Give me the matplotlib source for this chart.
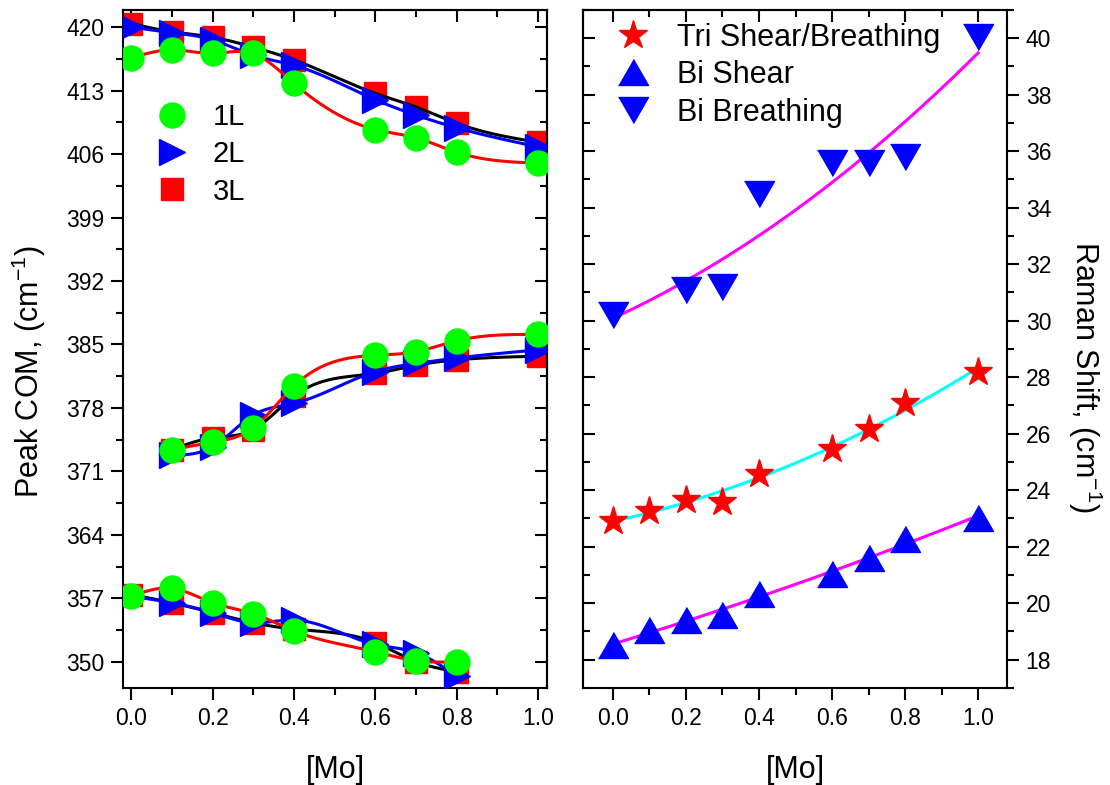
import numpy as np
import matplotlib
matplotlib.use("Agg")
import matplotlib.pyplot as plt
from matplotlib.ticker import MultipleLocator

plt.rcParams['font.family'] = ['Liberation Sans', 'DejaVu Sans']
plt.rcParams['mathtext.default'] = 'regular'

# ---- left panel: peak centre of mass for 1L / 2L / 3L ----
mo_full = [0.0, 0.1, 0.2, 0.3, 0.4, 0.6, 0.7, 0.8, 1.0]
top_1L = [416.6, 417.5, 417.1, 417.1, 413.8, 408.7, 407.8, 406.2, 405.0]
top_2L = [420.0, 419.4, 418.6, 416.9, 415.8, 412.0, 410.3, 408.9, 406.8]
top_3L = [420.4, 419.5, 418.9, 417.8, 416.4, 412.7, 411.2, 409.4, 407.3]

mo_mid = [0.1, 0.2, 0.3, 0.4, 0.6, 0.7, 0.8, 1.0]
mid_1L = [373.4, 374.2, 375.8, 380.4, 383.8, 384.2, 385.4, 386.1]
mid_2L = [372.8, 373.7, 377.2, 378.5, 382.0, 382.9, 383.5, 384.4]
mid_3L = [373.4, 374.7, 375.6, 379.3, 381.8, 382.7, 383.3, 383.7]

mo_low = [0.0, 0.1, 0.2, 0.3, 0.4, 0.6, 0.7, 0.8]
low_1L = [357.2, 358.1, 356.5, 355.3, 353.4, 351.1, 350.1, 350.0]
low_2L = [357.2, 356.5, 355.4, 354.3, 354.6, 351.9, 351.0, 348.4]
low_3L = [357.4, 356.5, 355.4, 354.3, 353.6, 352.1, 350.0, 348.9]

left_yticks = [350, 357, 364, 371, 378, 385, 392, 399, 406, 413, 420]
mo_ticks = [0.0, 0.2, 0.4, 0.6, 0.8, 1.0]
mo_ticklabels = ['0.0', '0.2', '0.4', '0.6', '0.8', '1.0']

# ---- right panel: low-frequency Raman modes ----
mo_tri = [0.0, 0.1, 0.2, 0.3, 0.4, 0.6, 0.7, 0.8, 1.0]
tri_shear_breath = [22.92, 23.28, 23.66, 23.6, 24.57, 25.46, 26.16, 27.1, 28.19]
bi_shear = [18.52, 19.05, 19.41, 19.58, 20.32, 21.03, 21.59, 22.28, 23.02]
mo_bb = [0.0, 0.2, 0.3, 0.4, 0.6, 0.7, 0.8, 1.0]
bi_breath = [30.2, 31.1, 31.2, 34.5, 35.6, 35.6, 35.8, 40.05]

RED, BLUE, GREEN = '#FF0000', '#0000FF', '#00FF00'
MAGENTA, CYAN = '#FF00FF', '#00FFFF'

TRI_UP = [(-1, -0.866), (1, -0.866), (0, 0.866)]
TRI_DOWN = [(-1, 0.866), (1, 0.866), (0, -0.866)]


def natural_spline(x, y, n=200):
    """Smooth natural cubic spline through the given points."""
    x = np.asarray(x, float)
    y = np.asarray(y, float)
    k = len(x)
    h = np.diff(x)
    A = np.zeros((k, k))
    r = np.zeros(k)
    A[0, 0] = A[-1, -1] = 1.0
    for i in range(1, k - 1):
        A[i, i - 1] = h[i - 1]
        A[i, i] = 2 * (h[i - 1] + h[i])
        A[i, i + 1] = h[i]
        r[i] = 6 * ((y[i + 1] - y[i]) / h[i] - (y[i] - y[i - 1]) / h[i - 1])
    M = np.linalg.solve(A, r)
    xs = np.linspace(x[0], x[-1], n)
    idx = np.clip(np.searchsorted(x, xs) - 1, 0, k - 2)
    x0, x1 = x[idx], x[idx + 1]
    hh = x1 - x0
    a = (x1 - xs) / hh
    b = (xs - x0) / hh
    ys = (a * y[idx] + b * y[idx + 1]
          + ((a ** 3 - a) * M[idx] + (b ** 3 - b) * M[idx + 1]) * hh ** 2 / 6)
    return xs, ys


fig = plt.figure(figsize=(11.1, 7.85), dpi=100)
ax1 = fig.add_axes([0.1108, 0.1236, 0.382, 0.8637])
ax2 = fig.add_axes([0.5252, 0.1236, 0.382, 0.8637])

LW = 2.2
for xs_, s1, s2, s3 in [(mo_full, top_1L, top_2L, top_3L),
                        (mo_mid, mid_1L, mid_2L, mid_3L),
                        (mo_low, low_1L, low_2L, low_3L)]:
    ax1.plot(xs_, s3, ls='none', marker='s', ms=16, color=RED, zorder=2)
    ax1.plot(*natural_spline(xs_, s3), color='black', lw=LW, zorder=3)
    ax1.plot(xs_, s2, ls='none', marker='>', ms=19, color=BLUE, zorder=4)
    ax1.plot(*natural_spline(xs_, s2), color=BLUE, lw=LW, zorder=5)
    ax1.plot(*natural_spline(xs_, s1), color=RED, lw=LW, zorder=6)
    ax1.plot(xs_, s1, ls='none', marker='o', ms=18, color=GREEN, zorder=7)

h1, = ax1.plot([], [], ls='none', marker='o', ms=18, color=GREEN, label='1L')
h2, = ax1.plot([], [], ls='none', marker='>', ms=19, color=BLUE, label='2L')
h3, = ax1.plot([], [], ls='none', marker='s', ms=16, color=RED, label='3L')
ax1.legend(handles=[h1, h2, h3], loc='upper left', bbox_to_anchor=(0.081, 0.863),
           frameon=False, fontsize=21, handlelength=1.0, handletextpad=0.9,
           labelspacing=0.32, borderpad=0, borderaxespad=0)

ax1.set_xlim(-0.02, 1.022)
ax1.set_ylim(347.1, 421.9)
ax1.set_yticks(left_yticks)
ax1.yaxis.set_minor_locator(MultipleLocator(3.5))
ax1.set_xticks(mo_ticks)
ax1.set_xticklabels(mo_ticklabels)
ax1.xaxis.set_minor_locator(MultipleLocator(0.1))

# fitted trends on the right panel
xf = np.linspace(0.0, 1.0, 200)
fit_tri = np.polyval(np.polyfit(mo_tri, tri_shear_breath, 2), xf)
fit_shear = np.polyval(np.polyfit(mo_tri, bi_shear, 2), xf)
fit_breath = np.polyval(np.polyfit(mo_bb, bi_breath, 2), xf)

ax2.plot(xf, fit_breath, color=MAGENTA, lw=LW, zorder=2)
ax2.plot(xf, fit_tri, color=CYAN, lw=LW, zorder=2)
ax2.plot(xf, fit_shear, color=MAGENTA, lw=LW, zorder=2)
s_tri, = ax2.plot(mo_tri, tri_shear_breath, ls='none', marker='*', ms=21,
                  color=RED, zorder=3, label='Tri Shear/Breathing')
s_bs, = ax2.plot(mo_tri, bi_shear, ls='none', marker=TRI_UP, ms=21.6,
                 color=BLUE, zorder=3, label='Bi Shear')
s_bb, = ax2.plot(mo_bb, bi_breath, ls='none', marker=TRI_DOWN, ms=21.6,
                 color=BLUE, zorder=3, label='Bi Breathing')
ax2.legend(handles=[s_tri, s_bs, s_bb], loc='upper left',
           bbox_to_anchor=(0.082, 0.981), frameon=False, fontsize=22,
           handlelength=1.0, handletextpad=0.94, labelspacing=0.24,
           borderpad=0, borderaxespad=0)

ax2.set_xlim(-0.082, 1.079)
ax2.set_ylim(17, 41)
ax2.set_xticks(mo_ticks)
ax2.set_xticklabels(mo_ticklabels)
ax2.xaxis.set_minor_locator(MultipleLocator(0.1))
ax2.yaxis.set_major_locator(MultipleLocator(2))
ax2.yaxis.set_minor_locator(MultipleLocator(1))

for ax in (ax1, ax2):
    for sp in ax.spines.values():
        sp.set_linewidth(1.5)
    ax.tick_params(which='both', width=1.5, labelsize=16.5, pad=5,
                   direction='out')
    ax.tick_params(which='major', length=8.5)
    ax.tick_params(which='minor', length=5)
    ax.tick_params(axis='x', which='both', top=False, bottom=True)

ax1.tick_params(axis='y', which='both', left=True, right=False)
ax2.tick_params(axis='y', which='both', left=False, right=True,
                labelleft=False, labelright=True)

# inward ticks along the opposite spines
for ax, side in ((ax1, 'right'), (ax2, 'left')):
    sec = ax.secondary_yaxis(side)
    sec.set_yticks(ax.get_yticks())
    sec.yaxis.set_minor_locator(ax.yaxis.get_minor_locator())
    sec.tick_params(which='both', direction='in', width=1.5, labelleft=False,
                    labelright=False)
    sec.tick_params(which='major', length=8.5)
    sec.tick_params(which='minor', length=5)
    sec.spines[side].set_linewidth(1.5)
for ax in (ax1, ax2):
    sec = ax.secondary_xaxis('top')
    sec.set_xticks(mo_ticks)
    sec.xaxis.set_minor_locator(MultipleLocator(0.1))
    sec.tick_params(which='both', direction='in', width=1.5, labeltop=False)
    sec.tick_params(which='major', length=8.5)
    sec.tick_params(which='minor', length=5)
    sec.spines['top'].set_linewidth(1.5)

ax1.set_ylim(347.1, 421.9)
ax2.set_ylim(17, 41)

ax1.set_ylabel('Peak COM, (cm$^{-1}$)', fontsize=22, va='center')
ax1.yaxis.set_label_coords(-0.222, 0.466)
ax2.yaxis.set_label_position('right')
ax2.set_ylabel('Raman Shift, (cm$^{-1}$)', fontsize=22, rotation=270, va='center')
ax2.yaxis.set_label_coords(1.184, 0.459)
for ax in (ax1, ax2):
    ax.set_xlabel('[Mo]', fontsize=22, va='center')
    ax.xaxis.set_label_coords(0.5, -0.121)

fig.savefig('out.png', dpi=100)
